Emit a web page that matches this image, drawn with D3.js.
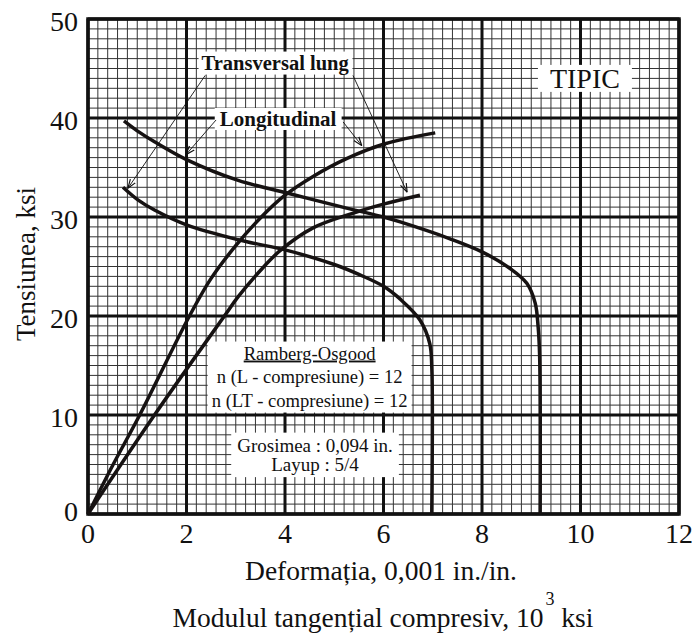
<!DOCTYPE html>
<html><head><meta charset="utf-8">
<script src="https://cdn.jsdelivr.net/npm/d3@7"></script>
<style>body{margin:0;background:#fff}svg{display:block}text{font-family:"Liberation Serif","Times New Roman",serif;fill:#111}</style>
</head><body><svg id="c" width="692" height="637"></svg>
<script>
// ---- data ----
const xTicks = [0, 2, 4, 6, 8, 10, 12];
const yTicks = [0, 10, 20, 30, 40, 50];
const xMinorStep = 0.2, yMinorStep = 1;

// Longitudinal stress-strain (strain 0.001 in/in, stress ksi)
const longSSStrain = [0, 0.5, 1.05, 2.06, 2.5, 3.0, 3.5, 4.0, 4.57, 5.25, 6.03, 7.05];
const longSSStress = [0, 4.9, 10, 20, 23.8, 27.1, 29.9, 32.2, 34.1, 35.9, 37.4, 38.5];
// Transverse (long transverse) stress-strain
const transSSStrain = [0, 1.35, 2.77, 3.05, 3.5, 3.9, 4.57, 5.39, 6.0, 6.74];
const transSSStress = [0, 10, 20, 21.95, 24.6, 26.6, 28.9, 30.4, 31.3, 32.2];
// Longitudinal tangent modulus (10^3 ksi) vs stress
const longTanModulus = [0.73, 1.0, 1.35, 2.0, 3.05, 4.06, 5.25, 6.0, 6.34, 7.35, 7.99, 8.57, 8.91, 9.08, 9.14, 9.17, 9.18];
const longTanStress  = [39.7, 38.7, 37.6, 35.8, 33.7, 32.4, 30.9, 30.0, 29.5, 27.8, 26.5, 24.8, 23.3, 21.3, 18.9, 16.0, 0];
// Transverse tangent modulus vs stress
const transTanModulus = [0.71, 1.02, 1.35, 2.0, 3.05, 4.06, 5.0, 5.5, 6.0, 6.34, 6.74, 6.94, 6.98, 6.98];
const transTanStress  = [33.0, 31.7, 30.7, 29.2, 27.7, 26.6, 25.2, 24.2, 23.0, 21.7, 19.6, 17.2, 14.9, 0];

// annotation labels (data coords) and arrows [fromX, fromY, toX, toY]
const labelTrans = {text: "Transversal lung", x: 3.80, y: 45.6};
const arrowsTrans = [[2.38, 44.3, 0.81, 32.9], [5.38, 44.3, 6.48, 32.5]];
const labelLong = {text: "Longitudinal", x: 3.86, y: 39.9};
const arrowsLong = [[2.60, 39.8, 1.99, 36.3], [5.18, 39.6, 5.56, 37.2]];
const labelTipic = {text: "TIPIC", x: 10.09, y: 44.0};
const boxRO = {x: 4.5, y: 15.6, lines: ["Ramberg-Osgood", "n (L - compresiune) = 12", "n (LT - compresiune) = 12"]};
const boxG = {x: 4.61, y: 6.3, lines: ["Grosimea : 0,094 in.", "Layup : 5/4"]};

const xTitle1 = "Deformația, 0,001 in./in.";
const xTitle2 = "Modulul tangențial compresiv, 10";
const yTitle = "Tensiunea, ksi";

// ---- drawing ----
const svg = d3.select("#c");
const x = d3.scaleLinear().domain([0, 12]).range([88, 679]);
const y = d3.scaleLinear().domain([0, 50]).range([514, 19]);

svg.append("rect").attr("width", 692).attr("height", 637).attr("fill", "#fff");

const minorX = d3.range(0, 12 + 1e-9, xMinorStep);
const minorY = d3.range(0, 50 + 1e-9, yMinorStep);
const g = svg.append("g");
g.selectAll(".vx").data(minorX).join("line")
  .attr("x1", d => x(d)).attr("x2", d => x(d)).attr("y1", y(0)).attr("y2", y(50))
  .attr("stroke", "#333").attr("stroke-width", 1);
g.selectAll(".hy").data(minorY).join("line")
  .attr("y1", d => y(d)).attr("y2", d => y(d)).attr("x1", x(0)).attr("x2", x(12))
  .attr("stroke", "#333").attr("stroke-width", 1);
g.selectAll(".mx").data(xTicks).join("line")
  .attr("x1", d => x(d)).attr("x2", d => x(d)).attr("y1", y(0)).attr("y2", y(50))
  .attr("stroke", "#111").attr("stroke-width", 3);
g.selectAll(".my").data(yTicks).join("line")
  .attr("y1", d => y(d)).attr("y2", d => y(d)).attr("x1", x(0)).attr("x2", x(12))
  .attr("stroke", "#111").attr("stroke-width", 3);
svg.append("rect").attr("x", x(0)).attr("y", y(50)).attr("width", x(12) - x(0)).attr("height", y(0) - y(50))
  .attr("fill", "none").attr("stroke", "#111").attr("stroke-width", 3.5);

// tick labels
svg.selectAll(".xt").data(xTicks).join("text")
  .attr("x", d => x(d)).attr("y", 543).attr("text-anchor", "middle")
  .attr("font-size", 28).text(d => d);
svg.selectAll(".yt").data(yTicks).join("text")
  .attr("x", 78).attr("y", d => y(d) + (d === 0 ? -3 : 2)).attr("text-anchor", "end")
  .attr("dominant-baseline", "central").attr("font-size", 28).text(d => d);

// titles
svg.append("text").attr("x", 381).attr("y", 580).attr("text-anchor", "middle").attr("font-size", 27.5).text(xTitle1);
const t2 = svg.append("text").attr("x", 383).attr("y", 627).attr("text-anchor", "middle").attr("font-size", 27.5);
t2.append("tspan").text(xTitle2);
t2.append("tspan").attr("dx", 2).attr("dy", -22).attr("font-size", 18).text("3");
t2.append("tspan").attr("dy", 22).text(" ksi");
svg.append("text").attr("transform", "translate(35,264) rotate(-90)").attr("text-anchor", "middle")
  .attr("font-size", 27).text(yTitle);

// label boxes
function labelBox(lbl, size, weight, padX, padY) {
  const gg = svg.append("g");
  const r = gg.append("rect").attr("fill", "#fff");
  const t = gg.append("text").attr("x", x(lbl.x)).attr("y", y(lbl.y)).attr("text-anchor", "middle")
    .attr("dominant-baseline", "central").attr("font-size", size).attr("font-weight", weight).text(lbl.text);
  const b = t.node().getBBox();
  r.attr("x", b.x - padX).attr("y", b.y - padY).attr("width", b.width + 2 * padX).attr("height", b.height + 2 * padY);
}
function multiBox(bx, size, lh, padX, padY, underlineFirst) {
  const gg = svg.append("g");
  const r = gg.append("rect").attr("fill", "#fff");
  const t = gg.append("text").attr("font-size", size).attr("text-anchor", "middle");
  bx.lines.forEach((s, i) => {
    const ts = t.append("tspan").attr("x", x(bx.x)).attr("y", y(bx.y) + i * lh).text(s);
    if (i === 0 && underlineFirst) ts.attr("text-decoration", "underline");
  });
  const b = t.node().getBBox();
  r.attr("x", b.x - padX).attr("y", b.y - padY).attr("width", b.width + 2 * padX).attr("height", b.height + 2 * padY);
}

// curves
const line = d3.line().x(d => x(d[0])).y(d => y(d[1])).curve(d3.curveCatmullRom.alpha(0.5));
const series = [
  d3.zip(longSSStrain, longSSStress),
  d3.zip(transSSStrain, transSSStress),
  d3.zip(longTanModulus, longTanStress),
  d3.zip(transTanModulus, transTanStress)
];

labelBox(labelTrans, 20.5, "bold", 3, 0);
labelBox(labelLong, 21, "bold", 5, -1);
labelBox(labelTipic, 28, "normal", 12, -2);
multiBox(boxRO, 18.6, 23.5, 4, 1, true);
multiBox(boxG, 19, 19.5, 6, 2, false);

svg.selectAll(".curve").data(series).join("path")
  .attr("d", line).attr("fill", "none").attr("stroke", "#161212").attr("stroke-width", 3.5)
  .attr("stroke-linecap", "butt");

// arrows
svg.append("defs").append("marker").attr("id", "ah").attr("viewBox", "0 0 10 10")
  .attr("refX", 10).attr("refY", 5).attr("markerWidth", 9).attr("markerHeight", 9)
  .attr("markerUnits", "userSpaceOnUse").attr("orient", "auto")
  .append("path").attr("d", "M0,1.5 L10,5 L0,8.5").attr("fill", "none").attr("stroke", "#111").attr("stroke-width", 1.3);
svg.selectAll(".arr").data(arrowsTrans.concat(arrowsLong)).join("line")
  .attr("x1", d => x(d[0])).attr("y1", d => y(d[1])).attr("x2", d => x(d[2])).attr("y2", d => y(d[3]))
  .attr("stroke", "#111").attr("stroke-width", 0.9).attr("marker-end", "url(#ah)");
</script></body></html>
